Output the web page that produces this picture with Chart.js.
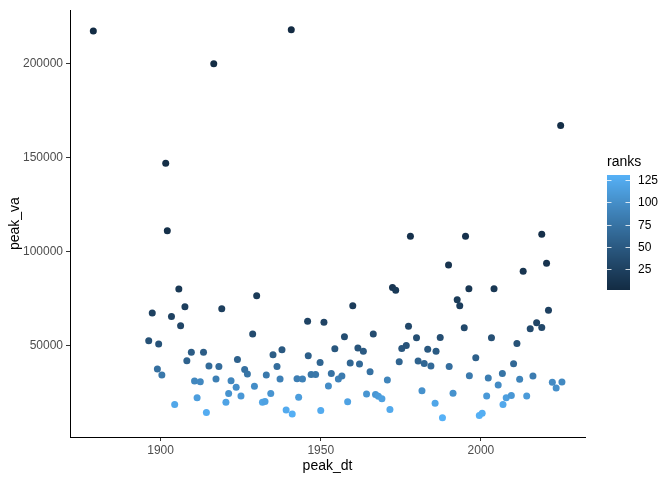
<!DOCTYPE html>
<html>
<head>
<meta charset="utf-8">
<script src="https://cdn.jsdelivr.net/npm/chart.js@4"></script>
<style>
  html, body { margin: 0; padding: 0; background: #fff; }
  #wrap { width: 672px; height: 480px; position: relative; }
</style>
</head>
<body>
<div id="wrap"><canvas id="peakChart" width="672" height="480"></canvas></div>
<script>
// peak date (decimal year) and peak value
const peakYears = [
  1879.0, 1896.3, 1897.4, 1899.0, 1899.4, 1900.4, 1901.6, 1902.1, 1903.4, 1904.4,
  1905.7, 1906.25, 1907.6, 1908.2, 1909.6, 1910.6, 1911.4, 1912.4, 1913.4, 1914.3,
  1915.1, 1916.6, 1917.3, 1918.2, 1919.1, 1920.4, 1921.25, 1922.0, 1923.6, 1924.0,
  1925.1, 1926.25, 1927.1, 1928.75, 1929.3, 1930.0, 1931.8, 1932.6, 1933.0, 1934.4,
  1935.1, 1936.35, 1937.3, 1937.9, 1939.2, 1940.8, 1941.1, 1942.6, 1943.1, 1944.3,
  1945.9, 1946.1, 1947.0, 1948.4, 1949.8, 1950.0, 1951.0, 1952.4, 1953.3, 1954.4,
  1955.5, 1956.6, 1957.4, 1958.4, 1959.2, 1960.0, 1961.6, 1962.1, 1963.3, 1964.3,
  1965.4, 1966.4, 1967.1, 1968.0, 1969.1, 1970.8, 1971.6, 1972.4, 1973.4, 1974.5,
  1975.3, 1976.7, 1977.4, 1978.0, 1979.9, 1980.4, 1981.6, 1982.3, 1983.4, 1984.4,
  1985.7, 1986.0, 1987.3, 1988.0, 1989.9, 1990.1, 1991.3, 1992.6, 1993.4, 1994.8,
  1995.2, 1996.25, 1996.4, 1998.4, 1999.5, 2000.4, 2001.8, 2002.3, 2003.3, 2004.1,
  2005.4, 2006.7, 2006.9, 2007.9, 2009.5, 2010.2, 2011.25, 2012.1, 2013.2, 2014.3,
  2015.4, 2016.25, 2017.4, 2019.0, 2019.0, 2020.5, 2021.1, 2022.3, 2023.5, 2024.9,
  2025.3
];
const peakValues = [
  217400, 52540, 67300, 37400, 50770, 34230, 147000, 111100, 65400, 18560,
  80000, 60450, 70600, 41820, 46400, 31060, 22090, 30700, 46400, 14330,
  39000, 200000, 32120, 38850, 69600, 19800, 24360, 31230, 27740, 42550,
  23120, 37220, 34740, 56030, 28270, 76450, 19800, 20140, 34230, 24360,
  45100, 38850, 32120, 47750, 15560, 218100, 13450, 32300, 22440, 32120,
  62860, 44570, 34580, 34580, 40960, 15380, 62330, 28450, 35110, 48280,
  32120, 33700, 54600, 19980, 40600, 71170, 48630, 40070, 46870, 24180,
  35990, 56030, 23840, 22950, 21680, 31590, 15900, 80850, 79440, 41300,
  48330, 49960, 60240, 108130, 54110, 41660, 25920, 40420, 47950, 39090,
  19260, 46870, 54290, 11520, 92820, 38850, 24540, 74340, 71170, 59380,
  108130, 80140, 33870, 43510, 12660, 13880, 23120, 32650, 54110, 80140,
  28970, 35110, 18560, 22090, 23300, 40250, 51010, 31940, 89470, 23120,
  58880, 33700, 62050, 109190, 59560, 93700, 68690, 30370, 27370, 167100,
  30540
];
const xTicks = [1900, 1950, 2000];
const yTicks = [50000, 100000, 150000, 200000];
const rankTicks = [25, 50, 75, 100, 125];

// rank 1 = largest peak
const order = peakValues.map((v, i) => i).sort((a, b) => peakValues[b] - peakValues[a]);
const ranks = new Array(peakValues.length);
order.forEach((idx, r) => { ranks[idx] = r + 1; });
const rankMin = 1, rankMax = peakValues.length;

// ggplot-style gradient, interpolated in Lab
const LOW = [0x13, 0x2B, 0x43], HIGH = [0x56, 0xB1, 0xF7];
function toLin(c) { c /= 255; return c <= 0.04045 ? c / 12.92 : Math.pow((c + 0.055) / 1.055, 2.4); }
function fromLin(c) { c = c <= 0.0031308 ? 12.92 * c : 1.055 * Math.pow(c, 1 / 2.4) - 0.055; return Math.max(0, Math.min(255, Math.round(c * 255))); }
function rgbToLab(rgb) {
  const r = toLin(rgb[0]), g = toLin(rgb[1]), b = toLin(rgb[2]);
  const x = (0.4124 * r + 0.3576 * g + 0.1805 * b) / 0.95047;
  const y = 0.2126 * r + 0.7152 * g + 0.0722 * b;
  const z = (0.0193 * r + 0.1192 * g + 0.9505 * b) / 1.08883;
  const f = t => t > 0.008856 ? Math.cbrt(t) : 7.787 * t + 16 / 116;
  const fx = f(x), fy = f(y), fz = f(z);
  return [116 * fy - 16, 500 * (fx - fy), 200 * (fy - fz)];
}
function labToRgb(lab) {
  const fy = (lab[0] + 16) / 116, fx = fy + lab[1] / 500, fz = fy - lab[2] / 200;
  const fi = t => t > 0.206893 ? t * t * t : (t - 16 / 116) / 7.787;
  const x = fi(fx) * 0.95047, y = fi(fy), z = fi(fz) * 1.08883;
  const r = 3.2406 * x - 1.5372 * y - 0.4986 * z;
  const g = -0.9689 * x + 1.8758 * y + 0.0415 * z;
  const b = 0.0557 * x - 0.2040 * y + 1.0570 * z;
  return [fromLin(r), fromLin(g), fromLin(b)];
}
const labLow = rgbToLab(LOW), labHigh = rgbToLab(HIGH);
function rankColor(rank) {
  const t = (rank - rankMin) / (rankMax - rankMin);
  const c = labToRgb(labLow.map((v, i) => v + (labHigh[i] - v) * t));
  return `rgb(${c[0]},${c[1]},${c[2]})`;
}

const points = peakYears.map((yr, i) => ({ x: yr, y: peakValues[i] }));
const FONT = '"Liberation Sans", Arial, sans-serif';

// colourbar legend on the right
const colorbarLegend = {
  id: 'colorbarLegend',
  afterDraw(chart) {
    const ctx = chart.ctx;
    const barX = 607, barW = 23, barTop = 175, barBottom = 290;
    const pxPerRank = (barBottom - barTop) / (rankMax - rankMin);
    ctx.save();
    for (let y = barTop; y < barBottom; y++) {
      const r = rankMax - (y + 0.5 - barTop) / pxPerRank;
      ctx.fillStyle = rankColor(r);
      ctx.fillRect(barX, y, barW, 1);
    }
    ctx.strokeStyle = 'rgba(255,255,255,0.8)';
    ctx.lineWidth = 1;
    ctx.font = '12px ' + FONT;
    ctx.fillStyle = '#000';
    ctx.textBaseline = 'middle';
    ctx.textAlign = 'left';
    rankTicks.forEach(t => {
      const y = Math.round(barBottom - (t - rankMin) * pxPerRank) + 0.5;
      ctx.beginPath();
      ctx.moveTo(barX, y); ctx.lineTo(barX + 4.5, y);
      ctx.moveTo(barX + barW - 4.5, y); ctx.lineTo(barX + barW, y);
      ctx.stroke();
      ctx.fillText(String(t), barX + barW + 8, y);
    });
    ctx.font = '14px ' + FONT;
    ctx.fillText('ranks', barX, 162);
    ctx.restore();
  }
};

new Chart(document.getElementById('peakChart'), {
  type: 'scatter',
  data: {
    datasets: [{
      data: points,
      pointBackgroundColor: ranks.map(rankColor),
      pointBorderWidth: 0,
      pointRadius: 3.5,
      pointHoverRadius: 3.5
    }]
  },
  options: {
    responsive: false,
    animation: false,
    layout: { padding: { left: 0, top: 7, right: 87, bottom: 0 } },
    plugins: { legend: { display: false }, tooltip: { enabled: false } },
    scales: {
      x: {
        type: 'linear',
        min: 1871.72,
        max: 2032.5,
        afterBuildTicks: s => { s.ticks = xTicks.map(v => ({ value: v })); },
        afterFit: s => { s.height = 43; },
        ticks: { color: '#4D4D4D', font: { family: FONT, size: 12 }, padding: 2, callback: v => String(v) },
        grid: { display: true, drawOnChartArea: false, drawTicks: true, tickLength: 4, color: '#333', lineWidth: 1 },
        border: { display: true, color: '#000', width: 1 },
        title: { display: true, text: 'peak_dt', color: '#000', font: { family: FONT, size: 14 }, padding: { top: 0, bottom: 5 } }
      },
      y: {
        type: 'linear',
        min: 1250,
        max: 228500,
        afterBuildTicks: s => { s.ticks = yTicks.map(v => ({ value: v })); },
        afterFit: s => { s.width = 70; },
        ticks: { color: '#4D4D4D', font: { family: FONT, size: 12 }, padding: 3, callback: v => String(v) },
        grid: { display: true, drawOnChartArea: false, drawTicks: true, tickLength: 4, color: '#333', lineWidth: 1 },
        border: { display: true, color: '#000', width: 1 },
        title: { display: true, text: 'peak_va', color: '#000', font: { family: FONT, size: 14 }, padding: { top: 7, bottom: 0 } }
      }
    }
  },
  plugins: [colorbarLegend]
});
</script>
</body>
</html>
